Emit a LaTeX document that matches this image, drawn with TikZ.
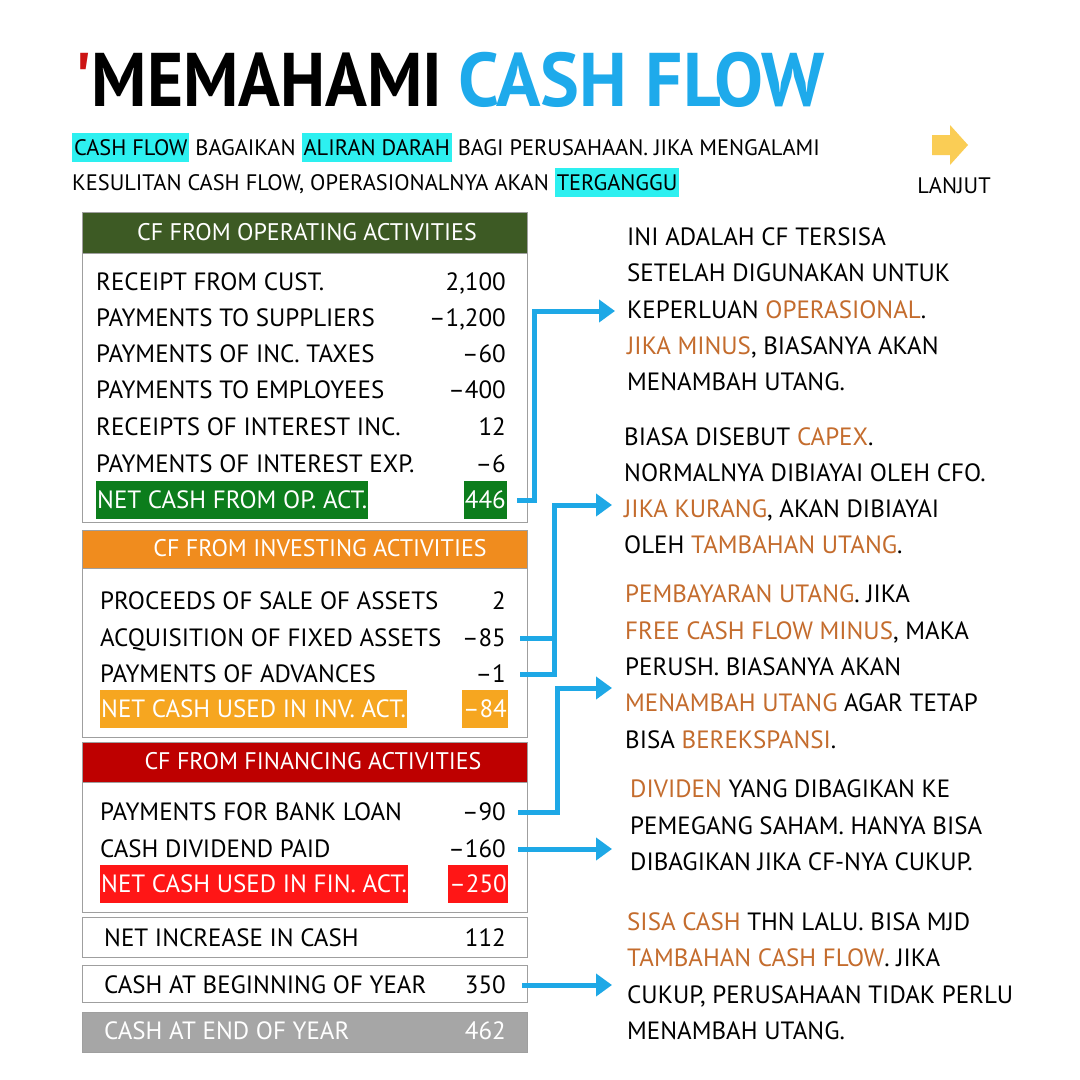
\documentclass[tikz,border=0pt]{standalone}
\usepackage{fontspec}
\setmainfont{PT Sans}
\usepackage{xcolor}
\usepackage{graphicx}
\usetikzlibrary{arrows.meta}

\definecolor{opgreen}{RGB}{61,90,36}
\definecolor{opnet}{RGB}{12,125,28}
\definecolor{invhead}{RGB}{240,140,30}
\definecolor{invnet}{RGB}{246,166,32}
\definecolor{finhead}{RGB}{190,0,0}
\definecolor{finnet}{RGB}{255,22,22}
\definecolor{endgray}{RGB}{166,166,166}
\definecolor{flowblue}{RGB}{30,168,230}
\definecolor{titleblue}{RGB}{30,170,235}
\definecolor{titlered}{RGB}{205,20,20}
\definecolor{hlcyan}{RGB}{45,240,240}
\definecolor{noteorange}{RGB}{196,108,45}
\definecolor{lanjutyellow}{RGB}{250,205,85}

\newcommand{\rowsize}{\fontsize{25}{30}\selectfont}
\newcommand{\subsize}{\fontsize{22.4}{28}\selectfont}
\newcommand{\headsize}{\fontsize{24}{30}\selectfont}
\newcommand{\orn}[1]{\textcolor{noteorange}{#1}}
\newcommand{\cy}[1]{{\setlength{\fboxsep}{0pt}\colorbox{hlcyan}{\rule[-6pt]{0pt}{29pt}\kern2pt#1\kern2pt}}}

\begin{document}
\begin{tikzpicture}[x=1pt,y=-1pt,
  row/.style={anchor=west,inner sep=0pt,text height=17pt,text depth=0pt,font=\rowsize},
  val/.style={row,anchor=east},
  net/.style={row,inner xsep=1pt,minimum height=38pt,text=white},
  hdr/.style={inner sep=0pt,text height=17pt,text depth=0pt,text=white,font=\headsize},
  boxline/.style={draw=gray!75,line width=1pt},
  flow/.style={draw=flowblue,line width=5pt,-{Triangle[length=16pt,width=22pt]}},
  flowline/.style={draw=flowblue,line width=5pt}]
\useasboundingbox[fill=white] (0,0) rectangle (1080,1080);

\node[anchor=base west,inner sep=0pt,font=\fontsize{76}{80}\selectfont\bfseries] (title) at (74,106) {\scalebox{0.91}[1]{\textcolor{titlered}{\textquotesingle}MEMAHAMI}};
\node[anchor=base west,inner sep=0pt,font=\fontsize{76}{80}\selectfont\bfseries,text=titleblue] (titleb) at ([xshift=16pt]title.base east) {\scalebox{0.965}[1]{CASH FLOW}};
\node[row,font=\subsize] (sub1) at (72,147) {\cy{CASH FLOW} BAGAIKAN \cy{ALIRAN DARAH} BAGI PERUSAHAAN. JIKA MENGALAMI};
\node[row,font=\subsize] (sub2) at (72,182) {KESULITAN CASH FLOW, OPERASIONALNYA AKAN \cy{TERGANGGU}};

\fill[lanjutyellow] (932,135) -- (950,135) -- (950,125) -- (968,145) -- (950,165) -- (950,155) -- (932,155) -- cycle;
\node[row,anchor=center,font=\subsize] (lanjut) at (954,185) {LANJUT};

\draw[boxline,fill=opgreen] (82,212) rectangle (527,253);
\node[hdr] (ophead) at (307,232) {CF FROM OPERATING ACTIVITIES};
\draw[boxline] (82,253) rectangle (527,522);
\node[row] (rcust) at (96,282) {RECEIPT FROM CUST.};
\node[val] (rcustval) at (506,282) {2,100};
\node[row] (psup) at (96,318) {PAYMENTS TO SUPPLIERS};
\node[val] (psupval) at (506,318) {–1,200};
\node[row] (ptax) at (96,354) {PAYMENTS OF INC. TAXES};
\node[val] (ptaxval) at (506,354) {–60};
\node[row] (pemp) at (96,390) {PAYMENTS TO EMPLOYEES};
\node[val] (pempval) at (506,390) {–400};
\node[row] (rint) at (96,427) {RECEIPTS OF INTEREST INC.};
\node[val] (rintval) at (506,427) {12};
\node[row] (pint) at (96,464) {PAYMENTS OF INTEREST EXP.};
\node[val] (pintval) at (506,464) {–6};
\node[net,fill=opnet] (opnet) at (96,500) {NET CASH FROM OP. ACT.};
\node[net,fill=opnet,anchor=east] (opnetval) at (507,500) {446};

\draw[boxline,fill=invhead] (82,530) rectangle (527,568);
\node[hdr] (invhead) at (320,548) {CF FROM INVESTING ACTIVITIES};
\draw[boxline] (82,568) rectangle (527,737);
\node[row] (sale) at (100,601) {PROCEEDS OF SALE OF ASSETS};
\node[val] (saleval) at (506,601) {2};
\node[row] (acq) at (100,638) {ACQUISITION OF FIXED ASSETS};
\node[val] (acqval) at (506,638) {–85};
\node[row] (adv) at (100,674) {PAYMENTS OF ADVANCES};
\node[val] (advval) at (506,674) {–1};
\node[net,fill=invnet] (invnet) at (100,709) {NET CASH USED IN INV. ACT.};
\node[net,fill=invnet,anchor=east] (invnetval) at (508,709) {–84};

\draw[boxline,fill=finhead] (82,742) rectangle (527,782);
\node[hdr] (finhead) at (313,761) {CF FROM FINANCING ACTIVITIES};
\draw[boxline] (82,782) rectangle (527,912);
\node[row] (bank) at (100,812) {PAYMENTS FOR BANK LOAN};
\node[val] (bankval) at (506,812) {–90};
\node[row] (div) at (100,849) {CASH DIVIDEND PAID};
\node[val] (divval) at (506,849) {–160};
\node[net,fill=finnet] (finnet) at (100,884) {NET CASH USED IN FIN. ACT.};
\node[net,fill=finnet,anchor=east] (finnetval) at (508,884) {–250};

\draw[boxline] (82,917) rectangle (527,957);
\node[row] (incr) at (104,938) {NET INCREASE IN CASH};
\node[val] (incrval) at (506,938) {112};
\draw[boxline] (82,965) rectangle (527,1002);
\node[row] (beg) at (104,985) {CASH AT BEGINNING OF YEAR};
\node[val] (begval) at (506,985) {350};
\draw[boxline,fill=endgray] (82,1012) rectangle (527,1052);
\node[row,text=white] (endy) at (104,1031) {CASH AT END OF YEAR};
\node[val,text=white] (endyval) at (506,1031) {462};

\node[row] (opnote1) at (627,237) {INI ADALAH CF TERSISA};
\node[row] (opnote2) at (627,273) {SETELAH DIGUNAKAN UNTUK};
\node[row] (opnote3) at (627,310) {KEPERLUAN \orn{OPERASIONAL}.};
\node[row] (opnote4) at (627,346) {\orn{JIKA MINUS}, BIASANYA AKAN};
\node[row] (opnote5) at (627,382) {MENAMBAH UTANG.};

\node[row] (invnote1) at (624,437) {BIASA DISEBUT \orn{CAPEX}.};
\node[row] (invnote2) at (624,473) {NORMALNYA DIBIAYAI OLEH CFO.};
\node[row] (invnote3) at (624,509) {\orn{JIKA KURANG}, AKAN DIBIAYAI};
\node[row] (invnote4) at (624,545) {OLEH \orn{TAMBAHAN UTANG}.};

\node[row] (finnote1) at (625,594) {\orn{PEMBAYARAN UTANG}. JIKA};
\node[row] (finnote2) at (625,631) {\orn{FREE CASH FLOW MINUS}, MAKA};
\node[row] (finnote3) at (625,667) {PERUSH. BIASANYA AKAN};
\node[row] (finnote4) at (625,703) {\orn{MENAMBAH UTANG} AGAR TETAP};
\node[row] (finnote5) at (625,740) {BISA \orn{BEREKSPANSI}.};

\node[row] (divnote1) at (630,789) {\orn{DIVIDEN} YANG DIBAGIKAN KE};
\node[row] (divnote2) at (630,826) {PEMEGANG SAHAM. HANYA BISA};
\node[row] (divnote3) at (630,862) {DIBAGIKAN JIKA CF-NYA CUKUP.};

\node[row] (cashnote1) at (627,922) {\orn{SISA CASH} THN LALU. BISA MJD};
\node[row] (cashnote2) at (627,958) {\orn{TAMBAHAN CASH FLOW}. JIKA};
\node[row] (cashnote3) at (627,995) {CUKUP, PERUSAHAAN TIDAK PERLU};
\node[row] (cashnote4) at (627,1031) {MENAMBAH UTANG.};

\coordinate (tipop) at (615,311);
\coordinate (tipinv) at (612,505);
\coordinate (tipfin) at (612,688);
\coordinate (tipdiv) at (612,849);
\coordinate (tipcash) at (612,985);

\draw[flow] ([xshift=10pt]opnetval.east) -- ++(17,0) |- (tipop);
\draw[flowline] ([xshift=14pt]acqval.east) -- ++(34,0);
\draw[flow] ([xshift=14pt]advval.east) -- ++(34,0) |- (tipinv);
\draw[flow] ([xshift=12pt]bankval.east) -- ++(39,0) |- (tipfin);
\draw[flow] ([xshift=12pt]divval.east) -- (tipdiv);
\draw[flow] ([xshift=16pt]begval.east) -- (tipcash);
\end{tikzpicture}
\end{document}
